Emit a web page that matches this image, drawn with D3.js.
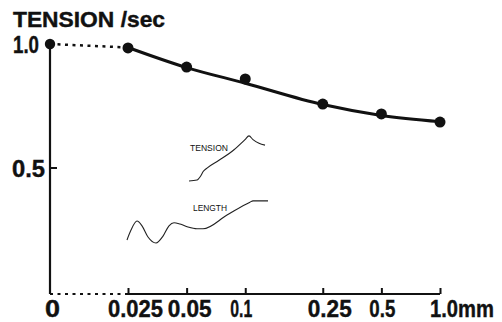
<!DOCTYPE html>
<html><head><meta charset="utf-8">
<script src="https://cdn.jsdelivr.net/npm/d3@7"></script>
<style>
html,body{margin:0;padding:0;background:#fff;}
svg{display:block;}
text{font-family:"Liberation Sans",Arial,sans-serif;fill:#111;}
.big{font-weight:bold;stroke:#111;stroke-width:0.4px;}
.small{font-weight:normal;}
</style></head>
<body>
<svg id="c" width="502" height="322"></svg>
<script>
// data
const distances = [0.025, 0.05, 0.1, 0.25, 0.5, 1.0];           // mm
const tensionPts = [0.984, 0.907, 0.859, 0.758, 0.718, 0.685];  // relative tension / sec
const startTension = 1.0;                                        // at 0 mm
const fitTension = [0.986, 0.905, 0.842, 0.756, 0.712, 0.687];   // smooth fitted curve
const xTickLabels = ["0.025", "0.05", "0.1", "0.25", "0.5", "1.0mm"];
const yTicks = [0.5, 1.0];
const yTickLabels = ["0.5", "1.0"];
// inset illustration traces (arbitrary units: t, value)
const insetTensionT = [0, 8, 10, 12, 14, 18, 30, 45, 56, 60, 64, 70, 76];
const insetTensionV = [0, 0.02, 0.06, 0.12, 0.2, 0.28, 0.45, 0.68, 0.9, 0.98, 0.9, 0.82, 0.78];
const insetLengthT = [2, 6, 12, 17, 23, 31, 38, 44, 49, 55, 63, 72, 78, 102, 125, 128, 143];
const insetLengthV = [0.07, 0.30, 0.51, 0.40, 0.14, 0.0, 0.16, 0.40, 0.47, 0.44, 0.37, 0.33, 0.33, 0.65, 0.95, 0.98, 0.98];

const svg = d3.select("#c");
const x = d3.scaleLog().domain([0.025, 1.0]).range([128, 440]);
const x0 = 50;
const y = d3.scaleLinear().domain([0, 1]).range([292, 44]);
const baseY = 294;

// y axis
svg.append("line").attr("x1", x0).attr("x2", x0).attr("y1", y(1.0)).attr("y2", baseY)
  .attr("stroke", "#111").attr("stroke-width", 2.2);
const yLabelBox = {"0.5": [12, 33], "1.0": [13, 26]};
yTicks.forEach((t, i) => {
  if (t < 1) svg.append("line").attr("x1", x0).attr("x2", x0 + 7).attr("y1", y(t)).attr("y2", y(t))
    .attr("stroke", "#111").attr("stroke-width", 2);
  const b = yLabelBox[yTickLabels[i]];
  svg.append("text").attr("class", "big").attr("x", b[0]).attr("y", y(t) + 9)
    .attr("font-size", 23).attr("textLength", b[1]).attr("lengthAdjust", "spacingAndGlyphs").text(yTickLabels[i]);
});
svg.append("text").attr("class", "big").attr("x", 45).attr("y", 317).attr("font-size", 24)
  .attr("textLength", 15).attr("lengthAdjust", "spacingAndGlyphs").text("0");

// x axis: dotted from 0 to first tick, solid after
svg.append("line").attr("x1", x0).attr("x2", x(0.025)).attr("y1", baseY).attr("y2", baseY)
  .attr("stroke", "#111").attr("stroke-width", 2).attr("stroke-dasharray", "3,4.5");
svg.append("line").attr("x1", x(0.025)).attr("x2", x(1.0)).attr("y1", baseY).attr("y2", baseY)
  .attr("stroke", "#111").attr("stroke-width", 2);
const xAxis = d3.axisTop(x).tickValues(distances).tickSize(6).tickFormat("");
const gx = svg.append("g").attr("transform", `translate(0,${baseY})`).call(xAxis);
gx.select(".domain").remove();
gx.selectAll("line").attr("stroke", "#111").attr("stroke-width", 2);
// label left offset and target width relative to tick
const labelBox = [[-20, 55], [-19, 44], [-15, 22], [-15, 44], [-12, 26], [-10, 64]];
distances.forEach((d, i) => {
  const g = svg.append("g").attr("transform", `translate(${x(d) + labelBox[i][0]},317)`);
  const t = g.append("text").attr("class", "big").attr("x", 0).attr("y", 0)
    .attr("font-size", 24).text(xTickLabels[i]);
  const w = t.node().getComputedTextLength();
  t.attr("transform", `scale(${labelBox[i][1] / w},1)`);
});

// title
svg.append("text").attr("class", "big").attr("x", 13).attr("y", 27).attr("font-size", 22)
  .attr("textLength", 152).attr("lengthAdjust", "spacingAndGlyphs").text("TENSION /sec");

// dotted segment from 0 to first point
svg.append("line").attr("x1", x0).attr("y1", y(startTension)).attr("x2", x(distances[0])).attr("y2", y(fitTension[0]))
  .attr("stroke", "#111").attr("stroke-width", 2.5).attr("stroke-dasharray", "3,4.5");

// fitted curve
const fitData = distances.map((d, i) => [d, fitTension[i]]);
svg.append("path").datum(fitData)
  .attr("d", d3.line().x(d => x(d[0])).y(d => y(d[1])).curve(d3.curveMonotoneX))
  .attr("fill", "none").attr("stroke", "#111").attr("stroke-width", 3);

// points
svg.append("circle").attr("cx", x0).attr("cy", y(startTension)).attr("r", 5.2).attr("fill", "#111");
svg.selectAll("circle.pt").data(distances).enter().append("circle").attr("class", "pt")
  .attr("cx", d => x(d)).attr("cy", (d, i) => y(tensionPts[i])).attr("r", 5.5).attr("fill", "#111");

// inset traces
const ix = d3.scaleLinear().domain([0, 76]).range([189, 265]);
const iyT = d3.scaleLinear().domain([0, 1]).range([181, 135]);
svg.append("path").datum(insetTensionT.map((t, i) => [t, insetTensionV[i]]))
  .attr("d", d3.line().x(d => ix(d[0])).y(d => iyT(d[1])).curve(d3.curveMonotoneX))
  .attr("fill", "none").attr("stroke", "#222").attr("stroke-width", 1.1);
svg.append("text").attr("class", "small").attr("x", 190).attr("y", 151).attr("font-size", 8.5)
  .attr("textLength", 38).attr("lengthAdjust", "spacingAndGlyphs").text("TENSION");

const ixL = d3.scaleLinear().domain([0, 143]).range([125, 268]);
const iyL = d3.scaleLinear().domain([0, 1]).range([243, 200]);
svg.append("path").datum(insetLengthT.map((t, i) => [t, insetLengthV[i]]))
  .attr("d", d3.line().x(d => ixL(d[0])).y(d => iyL(d[1])).curve(d3.curveMonotoneX))
  .attr("fill", "none").attr("stroke", "#222").attr("stroke-width", 1.1);
svg.append("text").attr("class", "small").attr("x", 193).attr("y", 211).attr("font-size", 8.5)
  .attr("textLength", 34).attr("lengthAdjust", "spacingAndGlyphs").text("LENGTH");
</script>
</body></html>
